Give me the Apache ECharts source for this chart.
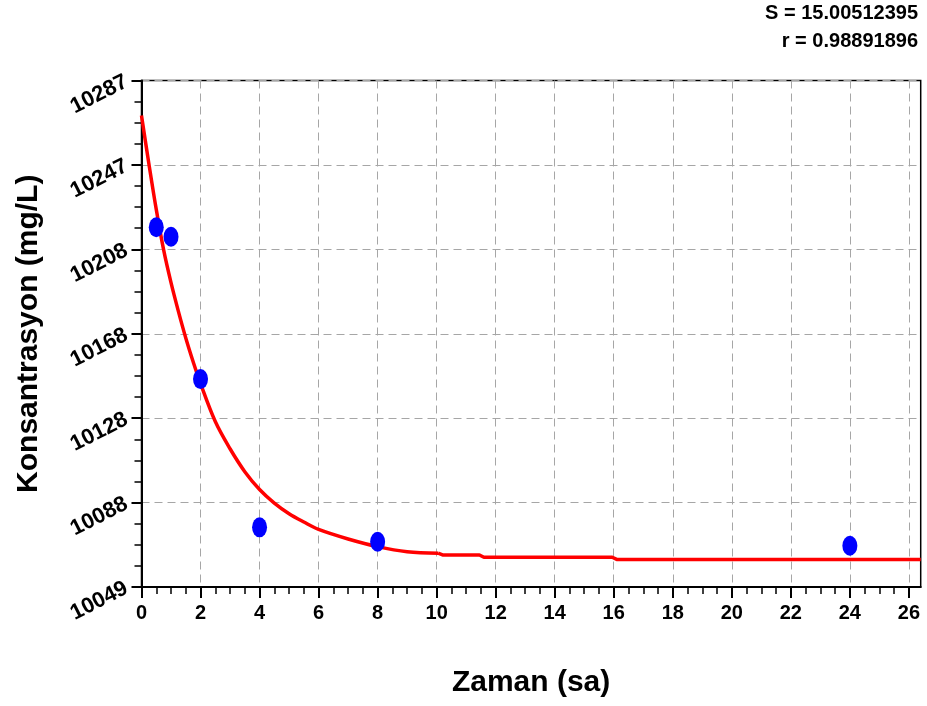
<!DOCTYPE html>
<html>
<head>
<meta charset="utf-8">
<script src="https://cdn.jsdelivr.net/npm/echarts@6/dist/echarts.min.js"></script>
<style>
  html, body { margin: 0; padding: 0; background: #fff; }
  #chart { width: 927px; height: 706px; }
</style>
</head>
<body>
<div id="chart"></div>
<script>
// Measured concentrations (time in hours, concentration in mg/L)
const sampleTime = [0.5, 1, 2, 4, 8, 24];
const sampleConc = [10218.1, 10213.6, 10146.6, 10076.8, 10070.0, 10068.1];

// Fitted curve, sampled along the time axis
const fitTime = [0, 0.25, 0.5, 0.75, 1, 1.25, 1.5, 1.75, 2, 2.5, 3, 3.5, 4, 4.5, 5, 5.5, 6, 7, 8, 9, 10.05, 10.2, 11.45, 11.6, 15.95, 16.1, 26.4];
const fitConc = [10270.7, 10248, 10226.5, 10207.4, 10192, 10178.5, 10166, 10154.8, 10144.5, 10126.6, 10113.8, 10103.0, 10094.6, 10088.2, 10083.2, 10079.3, 10075.8, 10071.3, 10067.7, 10065.3, 10064.6, 10063.8, 10063.8, 10062.7, 10062.7, 10061.7, 10061.7];

// Axis ranges and tick labels
const xTicks = [0, 2, 4, 6, 8, 10, 12, 14, 16, 18, 20, 22, 24, 26];
const xMax = 26.4;
const yMin = 10048.7;
const yMax = 10287.2;
const yTickLabels = ['10049', '10088', '10128', '10168', '10208', '10247', '10287'];

// Fit statistics
const statS = 'S = 15.00512395';
const statR = 'r = 0.98891896';

const FONT = '"Liberation Sans", Arial, sans-serif';
const yStep = (yMax - yMin) / 6;

// The decaying part of the curve is drawn smoothed, the flat tail as plain segments
const tailStart = fitTime.indexOf(10.05);
const fitPairs = fitTime.map((t, i) => [t, fitConc[i]]);
const fitHead = fitPairs.slice(0, tailStart + 1);
const fitTail = fitPairs.slice(tailStart);

const chart = echarts.init(document.getElementById('chart'), null, { renderer: 'canvas' });

const statStyle = {
  fontFamily: FONT,
  fontWeight: 'bold',
  fontSize: 20,
  fill: '#000',
  textAlign: 'right',
  textVerticalAlign: 'middle'
};

const fitLine = { color: '#ff0000', width: 3.5 };

chart.setOption({
  animation: false,
  backgroundColor: '#ffffff',
  graphic: [
    { type: 'text', x: 918, y: 13, style: Object.assign({ text: statS }, statStyle) },
    { type: 'text', x: 918, y: 41, style: Object.assign({ text: statR }, statStyle) }
  ],
  grid: {
    left: 141.5,
    right: 6.3,
    top: 80.5,
    bottom: 119,
    show: true,
    borderColor: '#000',
    borderWidth: 1.5,
    backgroundColor: 'transparent'
  },
  xAxis: {
    type: 'value',
    min: 0,
    max: xMax,
    interval: 2,
    name: 'Zaman (sa)',
    nameLocation: 'middle',
    nameGap: 81,
    nameTextStyle: { fontFamily: FONT, fontWeight: 'bold', fontSize: 30, color: '#000' },
    axisLine: { show: true, onZero: false, lineStyle: { color: '#000', width: 2 } },
    axisTick: { show: true, inside: false, length: 11, lineStyle: { color: '#000', width: 2 }, customValues: xTicks },
    minorTick: { show: true, splitNumber: 4, length: 7, lineStyle: { color: '#000', width: 1.5 } },
    axisLabel: {
      show: true,
      margin: 16,
      fontFamily: FONT,
      fontWeight: 'bold',
      fontSize: 20,
      color: '#000',
      customValues: xTicks,
      formatter: v => String(v)
    },
    splitLine: { show: true, lineStyle: { color: '#a6a6a6', width: 1, type: [8, 5] } }
  },
  yAxis: {
    type: 'value',
    min: yMin,
    max: yMax,
    interval: yStep,
    name: 'Konsantrasyon (mg/L)',
    nameLocation: 'middle',
    nameGap: 98,
    nameTextStyle: { fontFamily: FONT, fontWeight: 'bold', fontSize: 30, color: '#000' },
    axisLine: { show: true, onZero: false, lineStyle: { color: '#000', width: 2 } },
    axisTick: { show: true, inside: false, length: 10, lineStyle: { color: '#000', width: 2 } },
    minorTick: { show: true, splitNumber: 4, length: 7, lineStyle: { color: '#000', width: 1.5 } },
    axisLabel: {
      show: true,
      rotate: 27,
      margin: 15,
      fontFamily: FONT,
      fontWeight: 'bold',
      fontSize: 22,
      color: '#000',
      formatter: v => yTickLabels[Math.round((v - yMin) / yStep)] || ''
    },
    splitLine: { show: true, lineStyle: { color: '#a6a6a6', width: 1, type: [8, 5] } }
  },
  series: [
    {
      name: 'fit',
      type: 'line',
      data: fitHead,
      showSymbol: false,
      symbol: 'none',
      smooth: 0.35,
      lineStyle: fitLine,
      z: 2
    },
    {
      name: 'fit-tail',
      type: 'line',
      data: fitTail,
      showSymbol: false,
      symbol: 'none',
      smooth: false,
      lineStyle: fitLine,
      z: 2
    },
    {
      name: 'samples',
      type: 'scatter',
      data: sampleTime.map((t, i) => [t, sampleConc[i]]),
      symbol: 'circle',
      symbolSize: [15, 20],
      itemStyle: { color: '#0000ff', opacity: 1 },
      z: 3
    }
  ]
});
</script>
</body>
</html>
